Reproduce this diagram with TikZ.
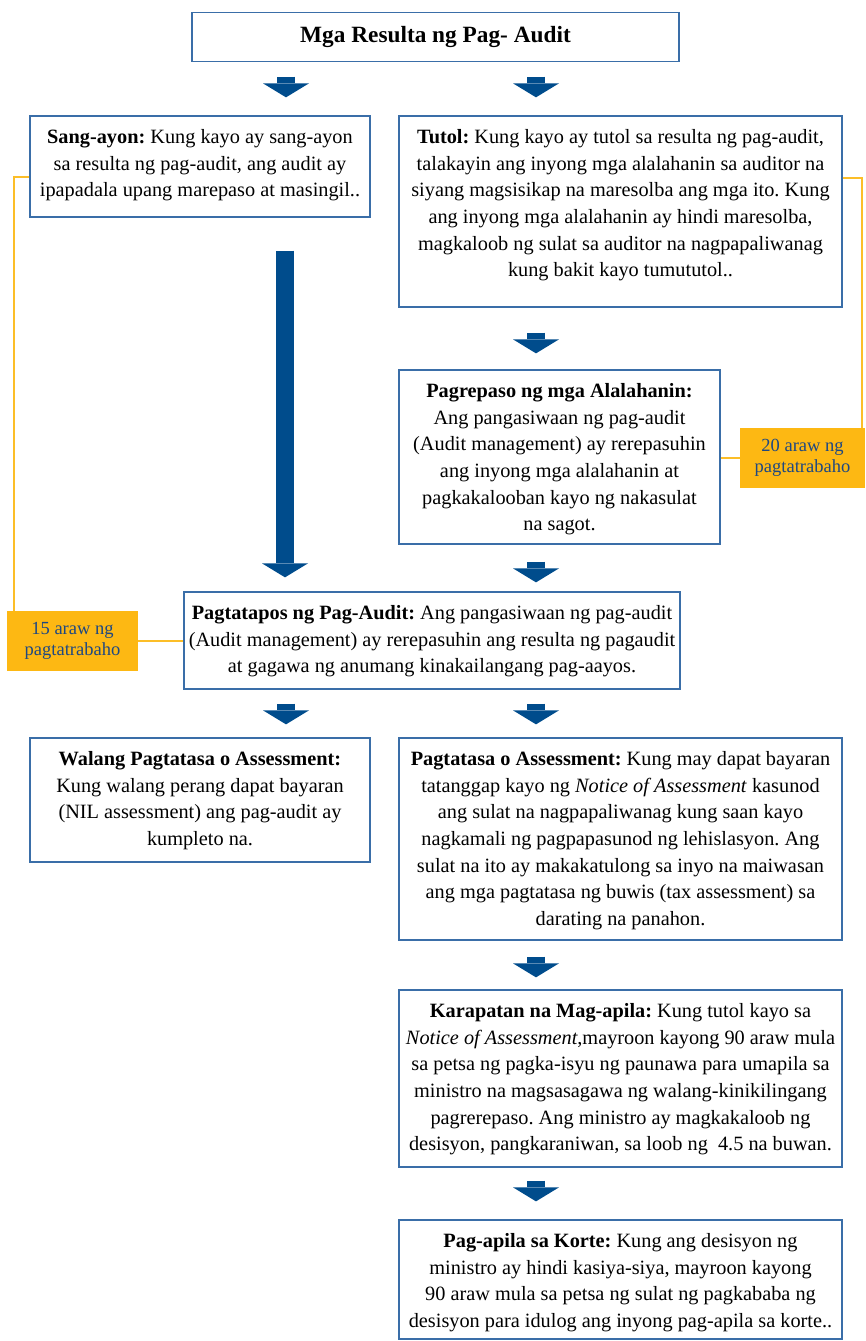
\documentclass[tikz,border=0pt]{standalone}
\usepackage{fontspec}
\setmainfont{Liberation Serif}
\usepackage{xcolor}
\usepackage{tikz}
\usetikzlibrary{arrows.meta}
\definecolor{frameblue}{RGB}{58,110,168}
\definecolor{arrowblue}{RGB}{0,76,140}
\definecolor{daysorange}{RGB}{253,184,19}
\definecolor{lineorange}{RGB}{252,190,40}
\definecolor{daysblue}{RGB}{30,72,130}
\frenchspacing
% text block of a step box: width, height, lines
\newcommand{\stepbody}[3]{\parbox[c][#2][t]{#1}{\vspace*{9pt}\makebox[#1]{\begin{tabular}{@{}c@{}}#3\end{tabular}}}}

\begin{document}
\begin{tikzpicture}[
  x=1pt, y=-1pt,
  box/.style={draw=frameblue, line width=1.3pt, fill=white, inner sep=0pt,
    font=\fontsize{20.3}{26.6}\selectfont},
  days/.style={fill=daysorange, text=daysblue, inner sep=0pt, minimum width=#1,
    minimum height=60pt, align=center, font=\fontsize{18.5}{21}\selectfont},
  flow/.style={draw=arrowblue, line width=18pt,
    -{Triangle[width=46pt, length=14pt, line width=0pt]}},
  timeline/.style={draw=lineorange, line width=2pt}
]
  \useasboundingbox (0,0) rectangle (865,1341);

  \node[box, minimum width=487pt, minimum height=49pt,
    font=\fontsize{23.3}{28}\selectfont\bfseries] (title) at (435.5,37) {Mga Resulta ng Pag- Audit};

  \node[box] (sang) at (200,166.5) {\stepbody{340pt}{101pt}{%
    \textbf{Sang-ayon:} Kung kayo ay sang-ayon\\
    sa resulta ng pag-audit, ang audit ay\\
    ipapadala upang marepaso at masingil..}};
  \node[box] (tutol) at (620.5,211.5) {\stepbody{443pt}{191pt}{%
    \textbf{Tutol:} Kung kayo ay tutol sa resulta ng pag-audit,\\
    talakayin ang inyong mga alalahanin sa auditor na\\
    siyang magsisikap na maresolba ang mga ito. Kung\\
    ang inyong mga alalahanin ay hindi maresolba,\\
    magkaloob ng sulat sa auditor na nagpapaliwanag\\
    kung bakit kayo tumututol..}};
  \node[box] (repaso) at (559.5,457) {\stepbody{321pt}{174pt}{%
    \textbf{Pagrepaso ng mga Alalahanin:}\\
    Ang pangasiwaan ng pag-audit\\
    (Audit management) ay rerepasuhin\\
    ang inyong mga alalahanin at\\
    pagkakalooban kayo ng nakasulat\\
    na sagot.}};
  \node[box] (tapos) at (432,640.5) {\stepbody{496pt}{97pt}{%
    \textbf{Pagtatapos ng Pag-Audit:} Ang pangasiwaan ng pag-audit\\
    (Audit management) ay rerepasuhin ang resulta ng pagaudit\\
    at gagawa ng anumang kinakailangang pag-aayos.}};
  \node[box] (walang) at (200,800) {\stepbody{340pt}{124pt}{%
    \textbf{Walang Pagtatasa o Assessment:}\\
    Kung walang perang dapat bayaran\\
    (NIL assessment) ang pag-audit ay\\
    kumpleto na.}};
  \node[box] (tasa) at (620.5,839) {\stepbody{443pt}{202pt}{%
    \textbf{Pagtatasa o Assessment:} Kung may dapat bayaran\\
    tatanggap kayo ng \textit{Notice of Assessment} kasunod\\
    ang sulat na nagpapaliwanag kung saan kayo\\
    nagkamali ng pagpapasunod ng lehislasyon. Ang\\
    sulat na ito ay makakatulong sa inyo na maiwasan\\
    ang mga pagtatasa ng buwis (tax assessment) sa\\
    darating na panahon.}};
  \node[box] (karap) at (620.5,1078.5) {\stepbody{443pt}{177pt}{%
    \textbf{Karapatan na Mag-apila:} Kung tutol kayo sa\\
    \textit{Notice of Assessment},mayroon kayong 90 araw mula\\
    sa petsa ng pagka-isyu ng paunawa para umapila sa\\
    ministro na magsasagawa ng walang-kinikilingang\\
    pagrerepaso. Ang ministro ay magkakaloob ng\\
    desisyon, pangkaraniwan, sa loob ng~ 4.5 na buwan.}};
  \node[box] (korte) at (620.5,1279.5) {\stepbody{443pt}{119pt}{%
    \textbf{Pag-apila sa Korte:} Kung ang desisyon ng\\
    ministro ay hindi kasiya-siya, mayroon kayong\\
    90 araw mula sa petsa ng sulat ng pagkababa ng\\
    desisyon para idulog ang inyong pag-apila sa korte..}};

  \node[days=131pt] (d15) at (72.5,641) {15 araw ng\\pagtatrabaho};
  \node[days=125pt] (d20) at (802.5,458) {20 araw ng\\pagtatrabaho};

  % working-day brackets
  \draw[timeline] (sang.west |- 0,177) -- (14,177) -- (d15.north -| 14,0);
  \draw[timeline] (tutol.east |- 0,178) -- (862,178) -- (d20.north -| 862,0);
  \draw[timeline] (d15.east) -- (tapos.west |- d15.east);
  \draw[timeline] (d20.west) -- (repaso.east |- d20.west);

  \foreach \from/\to/\x/\s/\t in {title/sang/286/14.5/18, title/tutol/536/14.5/18,
      tutol/repaso/536/25/16, repaso/tapos/536/17/9, sang/tapos/285/33/14,
      tapos/walang/286/14/13, tapos/tasa/536/14/13, tasa/karap/536/16/12,
      karap/korte/536/13/18} {
    \draw[flow, shorten <=\s pt, shorten >=\t pt] (\from.south -| \x,0) -- (\to.north -| \x,0);
  }
\end{tikzpicture}
\end{document}
